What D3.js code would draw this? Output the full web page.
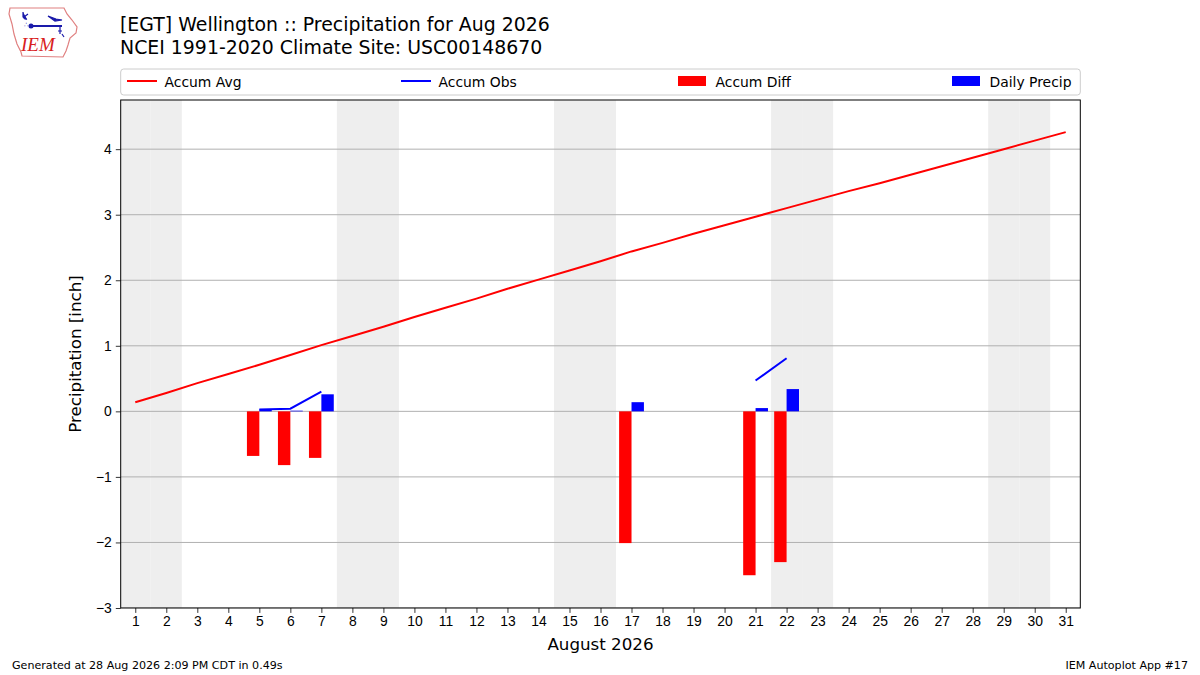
<!DOCTYPE html>
<html>
<head>
<meta charset="utf-8">
<script src="https://cdn.jsdelivr.net/npm/d3@7"></script>
<style>
    body { margin: 0; background: #fff; }
    svg { font-family: "DejaVu Sans", sans-serif; }
    .tick text { font-size: 13.9px; fill: #000; }
</style>
</head>
<body>
<div id="chart"></div>
<script>
// Days of the month shown on the x-axis.
const days = d3.range(1, 32);

// Climatological accumulated average precipitation (inch), one per day.
const accumAvg = [0.14, 0.28, 0.43, 0.57, 0.71, 0.86, 1.01, 1.15, 1.29, 1.44,
    1.58, 1.72, 1.87, 2.01, 2.15, 2.29, 2.44, 2.57, 2.71, 2.84,
    2.97, 3.10, 3.23, 3.36, 3.48, 3.61, 3.74, 3.87, 4.00, 4.13, 4.26];

// Observed values, null where the station had no report.
const accumObs = [null, null, null, null, 0.03, 0.04, 0.30, null, null, null,
    null, null, null, null, null, null, 0.43, null, null, null,
    0.47, 0.81, null, null, null, null, null, null, null, null, null];
const accumDiff = [null, null, null, null, -0.68, -0.82, -0.71, null, null, null,
    null, null, null, null, null, null, -2.01, null, null, null,
    -2.50, -2.30, null, null, null, null, null, null, null, null, null];
const dailyPrecip = [null, null, null, null, 0.03, 0.01, 0.26, null, null, null,
    null, null, null, null, null, null, 0.14, null, null, null,
    0.05, 0.34, null, null, null, null, null, null, null, null, null];

// Weekend days (Aug 1 2026 is a Saturday) get a grey band.
const weekends = [1, 2, 8, 9, 15, 16, 22, 23, 29, 30];

const yTicks = [-3, -2, -1, 0, 1, 2, 3, 4];

const width = 1200;
const height = 675;
const plot = { left: 120.7, right: 1080.3, top: 100, bottom: 608 };

const svg = d3.select("#chart")
    .append("svg")
    .attr("width", width)
    .attr("height", height);

const x = d3.scaleLinear()
    .domain([0.53, 31.47])
    .range([plot.left, plot.right]);

const y = d3.scaleLinear()
    .domain([-3, 4.75])
    .range([plot.bottom, plot.top]);

const dayW = x(1.4) - x(1);

svg.append("clipPath")
    .attr("id", "clip")
    .append("rect")
    .attr("x", plot.left)
    .attr("y", plot.top)
    .attr("width", plot.right - plot.left)
    .attr("height", plot.bottom - plot.top);

const body = svg.append("g").attr("clip-path", "url(#clip)");

// Weekend shading.
body.selectAll("rect.wk")
    .data(weekends)
    .join("rect")
    .attr("class", "wk")
    .attr("x", d => x(d - 0.5))
    .attr("y", plot.top)
    .attr("width", x(1.5) - x(0.5))
    .attr("height", plot.bottom - plot.top)
    .attr("fill", "#eeeeee");

// Horizontal grid lines.
body.selectAll("line.grid")
    .data(yTicks)
    .join("line")
    .attr("class", "grid")
    .attr("x1", plot.left)
    .attr("x2", plot.right)
    .attr("y1", d => y(d))
    .attr("y2", d => y(d))
    .attr("stroke", "#b0b0b0")
    .attr("stroke-width", 1);

const rows = days.map((d, i) => ({
    day: d,
    avg: accumAvg[i],
    obs: accumObs[i],
    diff: accumDiff[i],
    daily: dailyPrecip[i]
}));

// Accumulated departure bars, left of the day.
body.selectAll("rect.diff")
    .data(rows.filter(d => d.diff !== null))
    .join("rect")
    .attr("class", "diff")
    .attr("x", d => x(d.day - 0.4))
    .attr("width", dayW)
    .attr("y", d => y(Math.max(0, d.diff)))
    .attr("height", d => Math.abs(y(d.diff) - y(0)))
    .attr("fill", "#ff0000");

// Daily precipitation bars, right of the day.
body.selectAll("rect.daily")
    .data(rows.filter(d => d.daily !== null))
    .join("rect")
    .attr("class", "daily")
    .attr("x", d => x(d.day))
    .attr("width", dayW)
    .attr("y", d => y(d.daily))
    .attr("height", d => y(0) - y(d.daily))
    .attr("fill", "#0000ff");

// Accumulated average line.
body.append("path")
    .datum(rows)
    .attr("fill", "none")
    .attr("stroke", "#ff0000")
    .attr("stroke-width", 2)
    .attr("d", d3.line().x(d => x(d.day)).y(d => y(d.avg)));

// Accumulated observed line, broken where data is missing.
body.append("path")
    .datum(rows)
    .attr("fill", "none")
    .attr("stroke", "#0000ff")
    .attr("stroke-width", 2)
    .attr("d", d3.line()
        .defined(d => d.obs !== null)
        .x(d => x(d.day))
        .y(d => y(d.obs)));

// Axes.
const xAxis = svg.append("g")
    .attr("transform", `translate(0, ${plot.bottom})`)
    .call(d3.axisBottom(x).tickValues(days).tickFormat(d3.format("d"))
        .tickSizeOuter(0).tickSize(4.9).tickPadding(3.5));

const yAxis = svg.append("g")
    .attr("transform", `translate(${plot.left}, 0)`)
    .call(d3.axisLeft(y).tickValues(yTicks).tickFormat(d3.format("d"))
        .tickSizeOuter(0).tickSize(4.9).tickPadding(4));

[xAxis, yAxis].forEach(g => {
    g.select(".domain").remove();
    g.selectAll(".tick line").attr("stroke", "#000").attr("stroke-width", 0.8);
});

// Plot frame.
svg.append("rect")
    .attr("x", plot.left)
    .attr("y", plot.top)
    .attr("width", plot.right - plot.left)
    .attr("height", plot.bottom - plot.top)
    .attr("fill", "none")
    .attr("stroke", "#000")
    .attr("stroke-width", 1);

// Titles.
svg.append("text")
    .attr("x", 120)
    .attr("y", 31)
    .attr("font-size", 18.9)
    .text("[EGT] Wellington :: Precipitation for Aug 2026");

svg.append("text")
    .attr("x", 120)
    .attr("y", 54)
    .attr("font-size", 18.9)
    .text("NCEI 1991-2020 Climate Site: USC00148670");

// Axis labels.
svg.append("text")
    .attr("x", (plot.left + plot.right) / 2)
    .attr("y", 650)
    .attr("text-anchor", "middle")
    .attr("font-size", 16.7)
    .text("August 2026");

svg.append("text")
    .attr("transform", `translate(81, ${(plot.top + plot.bottom) / 2}) rotate(-90)`)
    .attr("text-anchor", "middle")
    .attr("font-size", 16.7)
    .text("Precipitation [inch]");

// Legend across the top of the plot.
const legend = svg.append("g");
legend.append("rect")
    .attr("x", plot.left)
    .attr("y", 69)
    .attr("width", plot.right - plot.left)
    .attr("height", 26)
    .attr("rx", 3)
    .attr("fill", "#fff")
    .attr("stroke", "#cccccc")
    .attr("stroke-width", 1);

const legendItems = [
    { label: "Accum Avg", kind: "line", color: "#ff0000", x0: 127 },
    { label: "Accum Obs", kind: "line", color: "#0000ff", x0: 401 },
    { label: "Accum Diff", kind: "patch", color: "#ff0000", x0: 678 },
    { label: "Daily Precip", kind: "patch", color: "#0000ff", x0: 952 }
];

legendItems.forEach(item => {
    if (item.kind === "line") {
        legend.append("line")
            .attr("x1", item.x0)
            .attr("x2", item.x0 + 30)
            .attr("y1", 81)
            .attr("y2", 81)
            .attr("stroke", item.color)
            .attr("stroke-width", 2);
    } else {
        legend.append("rect")
            .attr("x", item.x0)
            .attr("y", 76)
            .attr("width", 28)
            .attr("height", 10)
            .attr("fill", item.color);
    }
    legend.append("text")
        .attr("x", item.x0 + 37.5)
        .attr("y", 86.5)
        .attr("font-size", 13.9)
        .text(item.label);
});

// Footer.
svg.append("text")
    .attr("x", 12)
    .attr("y", 669)
    .attr("font-size", 11.1)
    .text("Generated at 28 Aug 2026 2:09 PM CDT in 0.49s");

svg.append("text")
    .attr("x", 1188)
    .attr("y", 669)
    .attr("text-anchor", "end")
    .attr("font-size", 11.1)
    .text("IEM Autoplot App #17");

// IEM logo: rough Iowa outline with the station symbol.
const logo = svg.append("g");
logo.append("path")
    .attr("d", "M10,8 L64,8 L67,14 L72,20 L77,27 L76,33 L70,38 L68,45 L66,51 L63,57 L22,56 L21,52 L17,44 L14,34 L12,24 L9,14 Z")
    .attr("fill", "#fff")
    .attr("stroke", "#e08080")
    .attr("stroke-width", 1.2);
logo.append("line")
    .attr("x1", 31).attr("y1", 26).attr("x2", 62).attr("y2", 26)
    .attr("stroke", "#1a1aaa").attr("stroke-width", 2);
logo.append("circle")
    .attr("cx", 31).attr("cy", 26).attr("r", 2.5)
    .attr("fill", "#1a1aaa");
logo.append("path")
    .attr("d", "M23,12 L23,17 Q25,20 27,19 M24,17 L28,14 M48,16 L56,19 L62,20 L55,21 Z M60,26 L60,34 M58,31 L62,31 M62,34 L64,37")
    .attr("fill", "#1a1aaa")
    .attr("stroke", "#1a1aaa")
    .attr("stroke-width", 1.2);
logo.append("text")
    .attr("x", 24).attr("y", 27).attr("font-size", 7).attr("fill", "#1a1aaa")
    .text("∴");
logo.append("text")
    .attr("x", 21)
    .attr("y", 51)
    .attr("font-family", "Liberation Serif, serif")
    .attr("font-style", "italic")
    .attr("font-size", 19)
    .attr("fill", "#d82020")
    .text("IEM");
</script>
</body>
</html>
